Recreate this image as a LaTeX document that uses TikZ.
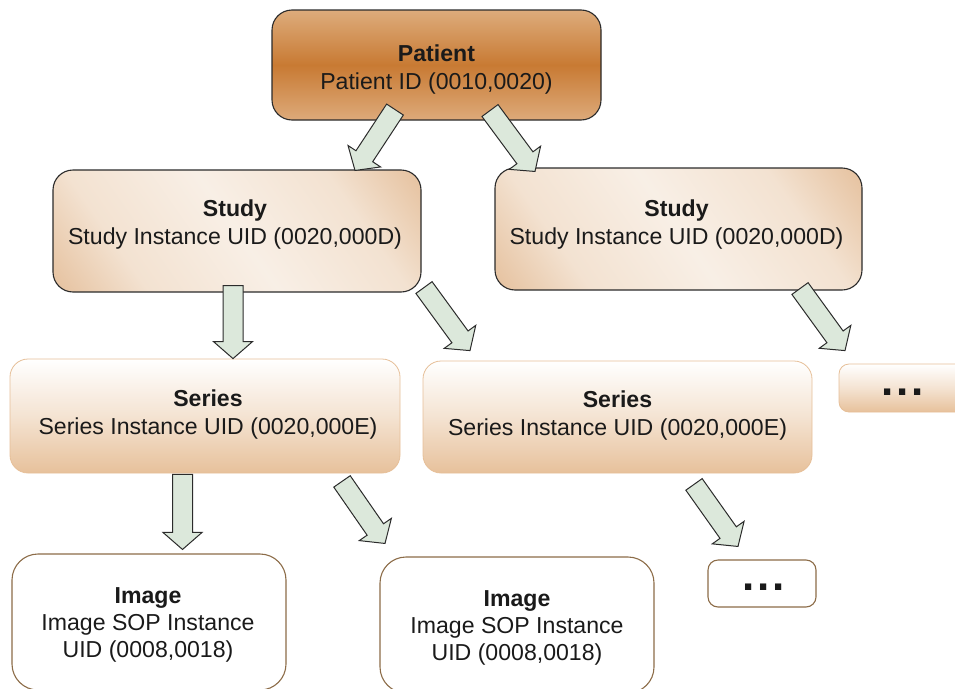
\documentclass[tikz,border=0pt]{standalone}
\usepackage{fontspec}
\setmainfont{Liberation Sans}
\usetikzlibrary{calc}

\definecolor{inkdark}{HTML}{2B2B2B}
\definecolor{patTop}{HTML}{DDAC7C}
\definecolor{patMid}{HTML}{C87A33}
\definecolor{patBot}{HTML}{DDAA7A}
\definecolor{studyDark}{HTML}{D79E68}
\definecolor{studyLight}{HTML}{F3E2D1}
\definecolor{seriesBot}{HTML}{E7C19B}
\definecolor{seriesLine}{HTML}{E6BF98}
\definecolor{imageLine}{HTML}{8C6C48}
\definecolor{arrowFill}{HTML}{DCE8DB}
\definecolor{txt}{HTML}{1A1A1A}

\pgfdeclarehorizontalshading{studyshade}{100bp}{color(0bp)=(studyDark); color(30bp)=(studyLight); color(50bp)=(studyLight!55!white); color(70bp)=(studyLight); color(100bp)=(studyDark)}

\tikzset{
  basebox/.style={rectangle, inner sep=0pt},
  patientbox/.style={basebox, draw=inkdark, line width=1.1pt, rounded corners=20pt,
    top color=patTop, bottom color=patBot, middle color=patMid},
  studybox/.style={basebox, draw=inkdark, line width=1.1pt, rounded corners=20pt,
    shade, shading=studyshade, shading angle=35},
  seriesbox/.style={basebox, draw=seriesLine, line width=0.8pt, rounded corners=18pt,
    top color=white, bottom color=seriesBot, middle color=seriesBot!45!white},
  imagebox/.style={basebox, draw=imageLine, line width=1.1pt, fill=white, rounded corners=26pt},
  moreimg/.style={basebox, draw=imageLine, line width=1.1pt, fill=white, rounded corners=10pt},
  boxtext/.style={text=txt, align=center, inner sep=0pt, font=\fontsize{23.1}{28}\selectfont},
  dots/.style={text=txt, inner sep=0pt, font=\fontsize{44}{44}\selectfont\bfseries},
  blockarrow/.style={draw=inkdark, line width=1pt, fill=arrowFill, line join=miter},
}

% block arrow from #1 to #2 (named coordinates)
\newcommand\blockarrow[2]{%
  \coordinate (ba-c) at ($(#2)!17pt!(#1)$);
  \draw[blockarrow]
    ($(#1)!10pt!90:(#2)$) -- ($(ba-c)!10pt!90:(#2)$) -- ($(ba-c)!19.5pt!90:(#2)$)
    -- (#2)
    -- ($(ba-c)!19.5pt!-90:(#2)$) -- ($(ba-c)!10pt!-90:(#2)$) -- ($(#1)!10pt!-90:(#2)$)
    -- cycle;
}

\begin{document}
\begin{tikzpicture}[x=1pt, y=-1pt]
\useasboundingbox (0,0) rectangle (955,688);
\clip (0,0) rectangle (955,688);

% boxes
\node[patientbox, minimum width=329pt, minimum height=110pt] (patient) at (436.5,65) {};
\node[studybox, minimum width=368pt, minimum height=122pt] (study1) at (237,231) {};
\node[studybox, minimum width=367pt, minimum height=122pt] (study2) at (678.5,229) {};
\node[seriesbox, minimum width=390pt, minimum height=114pt] (series1) at (205,416) {};
\node[seriesbox, minimum width=389pt, minimum height=112pt] (series2) at (617.5,417) {};
\node[seriesbox, rounded corners=10pt, minimum width=130pt, minimum height=48pt] (more1) at (904,388) {};
\node[imagebox, minimum width=274pt, minimum height=136pt] (image1) at (149,622) {};
\node[imagebox, minimum width=274pt, minimum height=136pt] (image2) at (517,625) {};
\node[moreimg, minimum width=108pt, minimum height=47pt] (more2) at (762,583.5) {};

% texts
\node[boxtext] (patient-t) at (436.5,69.5) {\textbf{Patient}\\Patient ID (0010,0020)};
\node[boxtext] (study1-t) at (235,224.5) {\textbf{Study}\\Study Instance UID (0020,000D)};
\node[boxtext] (study2-t) at (676.5,224.5) {\textbf{Study}\\Study Instance UID (0020,000D)};
\node[boxtext] (series1-t) at (208,414.5) {\textbf{Series}\\Series Instance UID (0020,000E)};
\node[boxtext] (series2-t) at (617.5,415.5) {\textbf{Series}\\Series Instance UID (0020,000E)};
\node[boxtext, font=\fontsize{23.1}{27}\selectfont] (image1-t) at (148,624.5) {\textbf{Image}\\Image SOP Instance\\UID (0008,0018)};
\node[boxtext, font=\fontsize{23.1}{27}\selectfont] (image2-t) at (517,627.5) {\textbf{Image}\\Image SOP Instance\\UID (0008,0018)};
\node[dots] (more1-t) at (903,392) {.\hspace{2.8pt}.\hspace{2.8pt}.};
\node[dots] (more2-t) at (764,587) {.\hspace{2.8pt}.\hspace{2.8pt}.};

% arrow end points
\coordinate (a1s) at ([shift={(-41.5,-11)}]patient.south);
\coordinate (a1e) at ([shift={(118,1)}]study1.north);
\coordinate (a2s) at ([shift={(53.5,-10)}]patient.south);
\coordinate (a2e) at ([shift={(-143.5,4)}]study2.north);
\coordinate (a3s) at ([shift={(-4,-7)}]study1.south);
\coordinate (a3e) at ([shift={(28,0)}]series1.north);
\coordinate (a4s) at ([shift={(187,-5)}]study1.south);
\coordinate (a4e) at ([shift={(-147.5,-10)}]series2.north);
\coordinate (a5s) at ([shift={(121.5,-2)}]study2.south);
\coordinate (a5e) at ([shift={(-59,-13)}]more1.north);
\coordinate (a6s) at ([shift={(-22.5,1)}]series1.south);
\coordinate (a6e) at ([shift={(33.5,-4)}]image1.north);
\coordinate (a7s) at ([shift={(137,8)}]series1.south);
\coordinate (a7e) at ([shift={(-132,-13)}]image2.north);
\coordinate (a8s) at ([shift={(76.5,11)}]series2.south);
\coordinate (a8e) at ([shift={(-24,-13)}]more2.north);

% block arrows
\blockarrow{a1s}{a1e}
\blockarrow{a2s}{a2e}
\blockarrow{a3s}{a3e}
\blockarrow{a4s}{a4e}
\blockarrow{a5s}{a5e}
\blockarrow{a6s}{a6e}
\blockarrow{a7s}{a7e}
\blockarrow{a8s}{a8e}
\end{tikzpicture}
\end{document}
